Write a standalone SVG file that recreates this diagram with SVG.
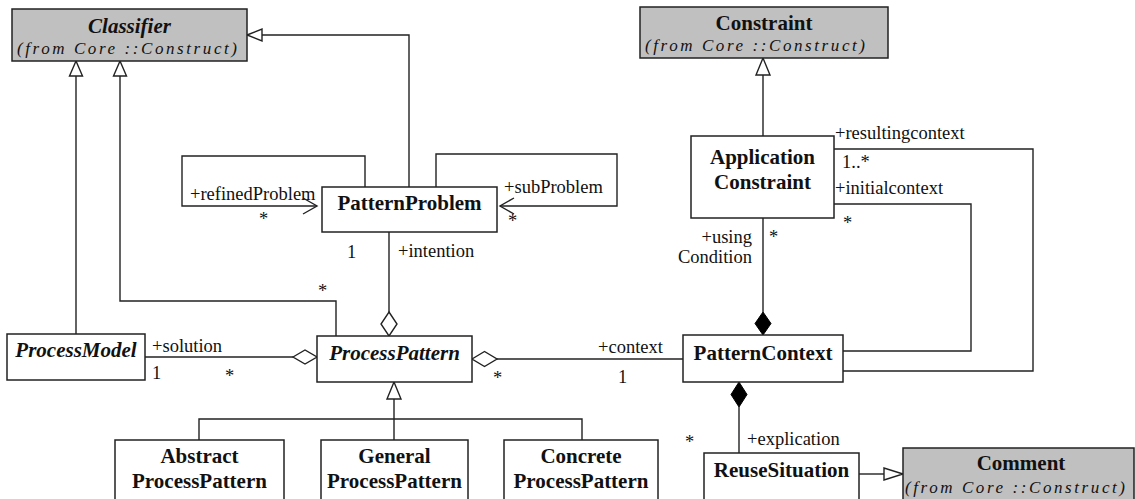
<svg xmlns="http://www.w3.org/2000/svg" width="1135" height="499" viewBox="0 0 1135 499">
  <style>
    .box { fill: #ffffff; stroke: #222222; stroke-width: 1.5; }
    .ext { fill: #c0c0c0; stroke: #222222; stroke-width: 1.5; }
    .name { font-family: "Liberation Serif", "Times New Roman", serif; font-size: 21px; font-weight: bold; fill: #111111; text-anchor: middle; }
    .abs { font-style: italic; }
    .from { font-family: "Liberation Serif", "Times New Roman", serif; font-size: 17px; font-style: italic; fill: #111111; }
    .role { font-family: "Liberation Serif", "Times New Roman", serif; font-size: 18.5px; fill: #111111; }
    .end { text-anchor: end; }
    .line { fill: none; stroke: #222222; stroke-width: 1.4; }
    .hollow { fill: #ffffff; stroke: #222222; stroke-width: 1.4; }
    .solid { fill: #000000; stroke: #000000; stroke-width: 1; }
  </style>

  <!-- associations, aggregations and generalizations -->
  <g id="connectors">
    <!-- ProcessModel -> Classifier -->
    <path class="line" d="M76,334 V76"/>
    <polygon class="hollow" points="76,61 69.5,76 82.5,76"/>
    <!-- ProcessPattern -> Classifier -->
    <path class="line" d="M336,336 V301 H120 V76"/>
    <polygon class="hollow" points="120,61 113.5,76 126.5,76"/>
    <!-- PatternProblem -> Classifier -->
    <path class="line" d="M409,187 V35 H262"/>
    <polygon class="hollow" points="247,35 262,29 262,41"/>

    <!-- refinedProblem self association -->
    <path class="line" d="M365,187 V156 H182 V206 H317"/>
    <path class="line" d="M303,198 L317,206 L303,214"/>
    <!-- subProblem self association -->
    <path class="line" d="M436,187 V154 H617 V206 H500"/>
    <path class="line" d="M514,198 L500,206 L514,214"/>

    <!-- intention: PatternProblem <>- ProcessPattern -->
    <path class="line" d="M389,232 V312"/>
    <polygon class="hollow" points="389,312 397,324 389,336 381,324"/>
    <!-- solution: ProcessModel -<> ProcessPattern -->
    <path class="line" d="M145,357 H293"/>
    <polygon class="hollow" points="293,357 305,350 317,357 305,364"/>
    <!-- context: ProcessPattern <>- PatternContext -->
    <path class="line" d="M497,359 H683"/>
    <polygon class="hollow" points="472,359 484.5,351.5 497,359 484.5,366.5"/>

    <!-- subclasses of ProcessPattern -->
    <path class="line" d="M199,440 V419 H582 V440 M394,440 V399"/>
    <polygon class="hollow" points="394,382 387,399 401,399"/>

    <!-- ApplicationConstraint -> Constraint -->
    <path class="line" d="M763,136 V75"/>
    <polygon class="hollow" points="763,58 756,75 770,75"/>
    <!-- usingCondition composition -->
    <path class="line" d="M763,218 V312"/>
    <polygon class="solid" points="763,312 771,323.5 763,335 755,323.5"/>
    <!-- resultingcontext / initialcontext -->
    <path class="line" d="M834,149 H1033 V371 H843"/>
    <path class="line" d="M834,204 H971 V351 H843"/>
    <!-- explication composition -->
    <path class="line" d="M739,407 V453"/>
    <polygon class="solid" points="739,382 747,394.5 739,407 731,394.5"/>
    <!-- ReuseSituation -> Comment -->
    <path class="line" d="M859,474 H884"/>
    <polygon class="hollow" points="903,474 884,468 884,480"/>
  </g>

  <!-- role names and multiplicities -->
  <g id="labels">
    <text class="role" x="190" y="200">+refinedProblem</text>
    <text class="role" x="259" y="225">*</text>
    <text class="role" x="504" y="193">+subProblem</text>
    <text class="role" x="508" y="227">*</text>
    <text class="role" x="347" y="258">1</text>
    <text class="role" x="398" y="257">+intention</text>
    <text class="role" x="318" y="297">*</text>
    <text class="role" x="152" y="352">+solution</text>
    <text class="role" x="152" y="379">1</text>
    <text class="role" x="225" y="382">*</text>
    <text class="role" x="493" y="384">*</text>
    <text class="role" x="598" y="353">+context</text>
    <text class="role" x="618" y="383">1</text>
    <text class="role" x="835" y="139">+resultingcontext</text>
    <text class="role" x="842" y="168">1..*</text>
    <text class="role" x="835" y="194">+initialcontext</text>
    <text class="role" x="843" y="229">*</text>
    <text class="role end" x="752" y="243">+using</text>
    <text class="role end" x="752" y="263">Condition</text>
    <text class="role" x="769" y="243">*</text>
    <text class="role" x="747" y="445">+explication</text>
    <text class="role" x="685" y="448">*</text>
  </g>

  <g id="classifier">
    <rect class="ext" x="12" y="9" width="235" height="52"/>
    <text class="name abs" x="129.5" y="33">Classifier</text>
    <text class="from" x="17" y="54" textLength="220" lengthAdjust="spacing">(from Core ::Construct)</text>
  </g>

  <g id="constraint">
    <rect class="ext" x="640" y="7" width="248" height="51"/>
    <text class="name" x="764" y="30">Constraint</text>
    <text class="from" x="645" y="51" textLength="220" lengthAdjust="spacing">(from Core ::Construct)</text>
  </g>

  <g id="pattern-problem">
    <rect class="box" x="322" y="187" width="175" height="45"/>
    <text class="name" x="409.5" y="210">PatternProblem</text>
  </g>

  <g id="process-model">
    <rect class="box" x="7" y="334" width="138" height="46"/>
    <text class="name abs" x="76" y="357">ProcessModel</text>
  </g>

  <g id="process-pattern">
    <rect class="box" x="317" y="336" width="155" height="46"/>
    <text class="name abs" x="394.5" y="360">ProcessPattern</text>
  </g>

  <g id="application-constraint">
    <rect class="box" x="691" y="136" width="143" height="82"/>
    <text class="name" x="762.5" y="164">Application</text>
    <text class="name" x="762.5" y="189">Constraint</text>
  </g>

  <g id="pattern-context">
    <rect class="box" x="683" y="335" width="160" height="47"/>
    <text class="name" x="763" y="360">PatternContext</text>
  </g>

  <g id="abstract-process-pattern">
    <rect class="box" x="115" y="440" width="169" height="62"/>
    <text class="name" x="199.5" y="463">Abstract</text>
    <text class="name" x="199.5" y="488">ProcessPattern</text>
  </g>

  <g id="general-process-pattern">
    <rect class="box" x="321" y="440" width="147" height="62"/>
    <text class="name" x="394.5" y="463">General</text>
    <text class="name" x="394.5" y="488">ProcessPattern</text>
  </g>

  <g id="concrete-process-pattern">
    <rect class="box" x="504" y="440" width="154" height="62"/>
    <text class="name" x="581" y="463">Concrete</text>
    <text class="name" x="581" y="488">ProcessPattern</text>
  </g>

  <g id="reuse-situation">
    <rect class="box" x="704" y="453" width="155" height="49"/>
    <text class="name" x="781.5" y="477">ReuseSituation</text>
  </g>

  <g id="comment">
    <rect class="ext" x="903" y="448" width="231" height="54"/>
    <text class="name" x="1021" y="470">Comment</text>
    <text class="from" x="905" y="493" textLength="220" lengthAdjust="spacing">(from Core ::Construct)</text>
  </g>
</svg>
